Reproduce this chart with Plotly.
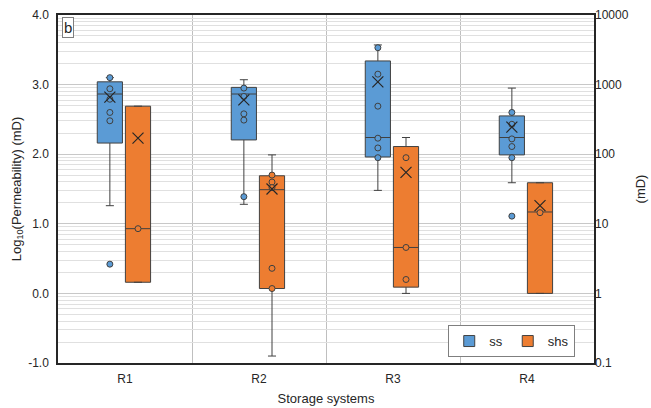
import plotly.graph_objects as go

categories = ["R1", "R2", "R3", "R4"]

# ss series (log10 permeability)
ss_q1 = [2.16, 2.205, 1.96, 1.99]
ss_median = [2.865, 2.865, 2.24, 2.24]
ss_q3 = [3.04, 2.96, 3.34, 2.55]
ss_lower = [1.26, 1.28, 1.48, 1.59]
ss_upper = [3.10, 3.07, 3.57, 2.95]
ss_mean = [2.82, 2.78, 3.04, 2.39]
ss_points = [
    [3.10, 2.94, 2.79, 2.60, 2.48, 0.42],
    [2.95, 2.83, 2.58, 2.49, 1.39],
    [3.53, 3.15, 2.69, 2.23, 2.09, 1.95],
    [2.60, 2.43, 2.22, 2.11, 1.95, 1.11],
]

# shs series
shs_q1 = [0.16, 0.07, 0.09, 0.0]
shs_median = [0.93, 1.49, 0.66, 1.17]
shs_q3 = [2.69, 1.69, 2.11, 1.59]
shs_lower = [0.16, -0.90, 0.0, 0.0]
shs_upper = [2.69, 1.99, 2.24, 1.59]
shs_mean = [2.23, 1.50, 1.74, 1.26]
shs_points = [
    [0.93],
    [1.70, 1.60, 1.52, 0.36, 0.07],
    [1.95, 0.66, 0.20],
    [1.16],
]

left_ticks = [-1.0, 0.0, 1.0, 2.0, 3.0, 4.0]
left_ticktext = ["-1.0", "0.0", "1.0", "2.0", "3.0", "4.0"]
right_ticks = [0.1, 1, 10, 100, 1000, 10000]
right_ticktext = ["0.1", "1", "10", "100", "1000", "10000"]

BLUE = "#5b9bd5"
ORANGE = "#ed7d31"
EDGE = "#404040"

SS_OFF = -0.113
SHS_OFF = 0.097
BW = 0.188

idx = list(range(len(categories)))
ss_x = [i + SS_OFF for i in idx]
shs_x = [i + SHS_OFF for i in idx]

fig = go.Figure()


def add_series(name, xs, q1, med, q3, lo, hi, mean, pts, color):
    fig.add_trace(go.Box(
        x=xs, q1=q1, median=med, q3=q3, lowerfence=lo, upperfence=hi,
        width=BW, fillcolor=color, line=dict(color=EDGE, width=1),
        whiskerwidth=0.32, boxpoints=False, showlegend=False, name=name,
        hoverinfo="skip",
    ))
    px, py = [], []
    for x, p in zip(xs, pts):
        for v in p:
            px.append(x)
            py.append(v)
    fig.add_trace(go.Scatter(
        x=px, y=py, mode="markers", showlegend=False,
        marker=dict(symbol="circle", size=6, color=color,
                    line=dict(color=EDGE, width=1)),
    ))
    fig.add_trace(go.Scatter(
        x=xs, y=mean, mode="markers", showlegend=False,
        marker=dict(symbol="x-thin", size=11,
                    line=dict(color="#262626", width=1.2)),
    ))
    fig.add_trace(go.Scatter(
        x=[None], y=[None], mode="markers", name=name,
        marker=dict(symbol="square", size=11, color=color,
                    line=dict(color=EDGE, width=1)),
    ))


add_series("ss", ss_x, ss_q1, ss_median, ss_q3, ss_lower, ss_upper,
           ss_mean, ss_points, BLUE)
add_series("shs", shs_x, shs_q1, shs_median, shs_q3, shs_lower, shs_upper,
           shs_mean, shs_points, ORANGE)

# invisible trace to activate the secondary log axis
fig.add_trace(go.Scatter(x=[None], y=[None], yaxis="y2", showlegend=False))

minor_vals = []
for e in range(-1, 4):
    for k in range(2, 10):
        minor_vals.append(k * 10 ** e)

font = dict(family="Liberation Sans, Arial, sans-serif", size=12, color="#262626")

fig.update_layout(
    width=651, height=408,
    margin=dict(l=58, r=57, t=15, b=45, autoexpand=False),
    paper_bgcolor="white", plot_bgcolor="white",
    font=font,
    boxmode="overlay",
    xaxis=dict(
        range=[-0.5, 3.5], tickvals=idx, ticktext=categories,
        showgrid=False, zeroline=False, automargin=False,
        showline=True, mirror=True, linecolor="#262626", linewidth=1.5,
        minor=dict(tickvals=[0.5, 1.5, 2.5], showgrid=True,
                   gridcolor="#bfbfbf", gridwidth=1, ticks=""),
        title=dict(text="Storage systems", font=dict(size=13), standoff=9),
        ticks="", ticklabelstandoff=4,
    ),
    yaxis=dict(
        range=[-1, 4], tickvals=left_ticks, ticktext=left_ticktext,
        showgrid=True, gridcolor="#c8c8c8", gridwidth=1,
        zeroline=False, showline=True, mirror=True, automargin=False,
        linecolor="#262626", linewidth=1.5, ticks="", ticklabelstandoff=5,
        title=dict(text="Log<sub>10</sub>(Permeability) (mD)",
                   font=dict(size=13), standoff=4),
    ),
    yaxis2=dict(
        type="log", range=[-1, 4], overlaying="y", side="right",
        tickvals=right_ticks, ticktext=right_ticktext, automargin=False,
        showgrid=False, zeroline=False, ticks="",
        minor=dict(tickvals=minor_vals, showgrid=True,
                   gridcolor="#e0e0e0", gridwidth=1, ticks=""),
        title=dict(text="(mD)", font=dict(size=13), standoff=8),
    ),
    legend=dict(
        orientation="h", x=0.965, y=0.017, xanchor="right", yanchor="bottom",
        bgcolor="white", bordercolor="#7f7f7f", borderwidth=1,
        font=dict(size=13), itemwidth=30, tracegroupgap=0,
    ),
    annotations=[dict(
        text="b", xref="paper", yref="paper", x=0.008, y=0.995,
        xanchor="left", yanchor="top", showarrow=False,
        font=dict(size=15, color="#262626"),
        bordercolor="#7f7f7f", borderwidth=1, borderpad=1, bgcolor="white",
    )],
)

fig.write_html(
    "out.html",
    config={"displayModeBar": False},
    post_script="document.body.style.margin='0';document.body.style.padding='0';",
)
